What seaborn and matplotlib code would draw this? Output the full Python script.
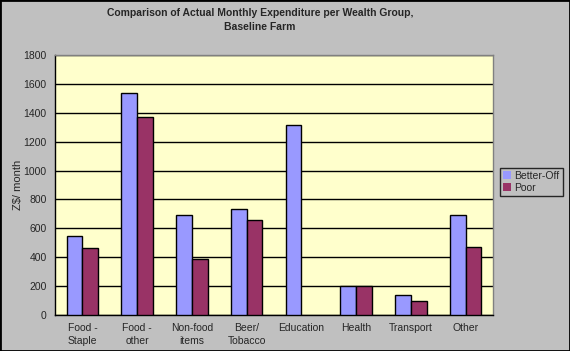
import pandas as pd
import matplotlib
matplotlib.use("Agg")
import matplotlib.pyplot as plt
import seaborn as sns

# chart data
categories = ["Food -\nStaple", "Food -\nother", "Non-food\nitems", "Beer/\nTobacco",
              "Education", "Health", "Transport", "Other"]
better_off = [550, 1540, 695, 735, 1315, 200, 140, 690]
poor = [465, 1370, 385, 660, 0, 200, 100, 470]
groups = ["Better-Off", "Poor"]
colors = ["#9999FF", "#993366"]

data = pd.DataFrame({
    "category": categories * 2,
    "value": better_off + poor,
    "group": [groups[0]] * len(categories) + [groups[1]] * len(categories),
})

sns.set_style("white")
plt.rcParams["font.family"] = ["Liberation Sans", "DejaVu Sans"]

fig = plt.figure(figsize=(5.7, 3.51), dpi=100, facecolor="#C0C0C0")
ax = fig.add_axes([55 / 570, 1 - 315 / 351, 438 / 570, 260 / 351])
ax.set_facecolor("#FFFFCC")

sns.barplot(data=data, x="category", y="value", hue="group", palette=colors,
            width=2 / 3.5, edgecolor="black", linewidth=1, saturation=1,
            ax=ax, zorder=3)

# hide the empty bar outline
for bar in ax.patches:
    if bar.get_height() == 0:
        bar.set_linewidth(0)

ax.set_ylim(0, 1800)
ax.set_xlim(-0.5, len(categories) - 0.5)
ax.set_yticks(range(0, 1801, 200))
ax.yaxis.grid(True, color="black", linewidth=1, zorder=0)
ax.set_axisbelow(True)

# category ticks between groups
ax.set_xticks([i + 0.5 for i in range(-1, len(categories))], minor=True)
ax.tick_params(axis="x", which="major", length=0, pad=6, labelsize=7.5)
ax.tick_params(axis="x", which="minor", length=4, width=1, color="black", direction="out")
ax.tick_params(axis="y", length=4, width=1, color="black", direction="out", labelsize=7.5, pad=2)
for lbl in ax.get_xticklabels():
    lbl.set_linespacing(1.35)

for side in ["left", "bottom"]:
    ax.spines[side].set_color("black")
    ax.spines[side].set_linewidth(1)
for side in ["top", "right"]:
    ax.spines[side].set_color("#808080")
    ax.spines[side].set_linewidth(1)

ax.set_xlabel("")
ax.set_ylabel("Z$/ month", fontsize=8)
ax.yaxis.set_label_coords(-(55 - 23) / 438, 0.5)

fig.text(260 / 570, 1 - 13 / 351, "Comparison of Actual Monthly Expenditure per Wealth Group,",
         fontsize=7.5, fontweight="bold", ha="center", va="center")
fig.text(260 / 570, 1 - 27 / 351, "Baseline Farm",
         fontsize=7.5, fontweight="bold", ha="center", va="center")

leg = ax.legend(loc="center left", bbox_to_anchor=(500 / 570, 1 - 182 / 351),
                bbox_transform=fig.transFigure, frameon=True, fontsize=7.5,
                handlelength=0.8, handleheight=0.8, handletextpad=0.3,
                borderpad=0.3, labelspacing=0.2, fancybox=False,
                borderaxespad=0)
leg.get_frame().set_edgecolor("black")
leg.get_frame().set_facecolor("#C0C0C0")
leg.get_frame().set_linewidth(1)

# outer border
fig.patches.append(plt.Rectangle((0, 0), 1, 1, transform=fig.transFigure,
                                 fill=False, edgecolor="black", linewidth=2))

fig.savefig("out.png", dpi=100, facecolor=fig.get_facecolor())
